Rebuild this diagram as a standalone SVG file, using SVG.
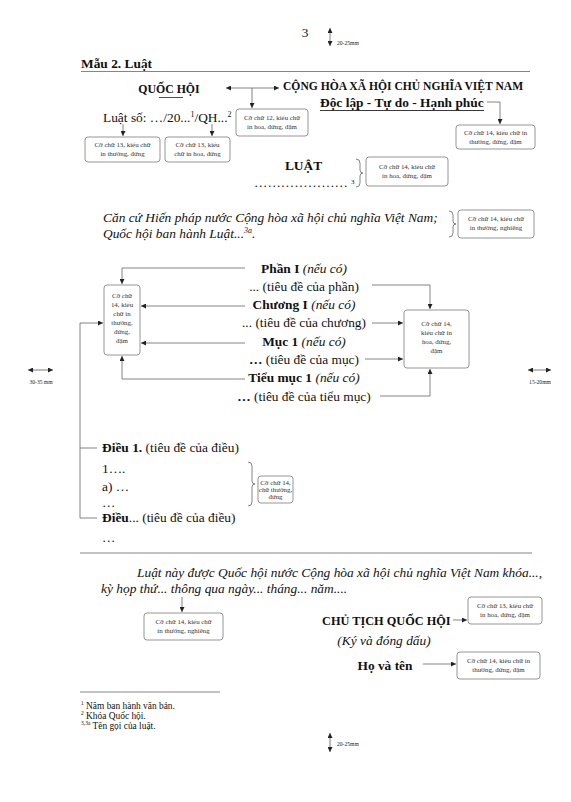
<svg xmlns="http://www.w3.org/2000/svg" width="571" height="802" viewBox="0 0 571 802">
<style>
text{font-family:"Liberation Serif","Times New Roman",serif;fill:#111}
.t{font-size:13.4px}
.b{font-weight:bold}
.i{font-style:italic}
.bx{fill:#fff;stroke:#8a8a8a;stroke-width:0.9}
.bt{font-size:6.9px;fill:#333;text-anchor:middle}
.c{fill:none;stroke:#666;stroke-width:0.8}
.rule{stroke:#777;stroke-width:0.9}
.m{font-size:5.6px;fill:#222}
.fn{font-size:9.4px}
</style>
<defs>
<marker id="ah" viewBox="0 0 10 10" refX="10" refY="5" markerWidth="5" markerHeight="5" markerUnits="userSpaceOnUse" orient="auto-start-reverse">
<path d="M0,0 L10,5 L0,10 Z" fill="#222"/>
</marker>
</defs>
<rect width="571" height="802" fill="#fff"/>

<g id="page-number"><text class="t" x="305" y="37" text-anchor="middle" font-size="12">3</text></g>
<g id="top-margin">
<line x1="330" y1="28" x2="330" y2="46" class="c" stroke="#222" marker-start="url(#ah)" marker-end="url(#ah)"/>
<text class="m" x="337" y="45">20-25mm</text>
</g>

<g id="title">
<text class="t b" x="81" y="68">Mẫu 2. Luật</text>
<line x1="81" y1="71.5" x2="530" y2="71.5" class="rule"/>
</g>

<g id="quoc-hoi">
<text class="b" x="169" y="93" text-anchor="middle" font-size="11.8px">QUỐC HỘI</text>
<line x1="159" y1="97.5" x2="183" y2="97.5" stroke="#222" stroke-width="0.8"/>
</g>

<g id="quoc-hieu">
<text class="b" x="283" y="90" font-size="11.6px">CỘNG HÒA XÃ HỘI CHỦ NGHĨA VIỆT NAM</text>
<text class="t b" x="320" y="107">Độc lập - Tự do - Hạnh phúc</text>
<line x1="320" y1="110.5" x2="484" y2="110.5" stroke="#222" stroke-width="0.9"/>
</g>

<g id="box-12">
<rect class="bx" x="236" y="109" width="72" height="27" rx="3"/>
<text class="bt" x="272" y="120">Cỡ chữ 12, kiểu chữ</text>
<text class="bt" x="272" y="129">in hoa, đứng, đậm</text>
</g>

<g id="box-tieu-ngu">
<rect class="bx" x="456" y="125" width="79" height="24" rx="3"/>
<text class="bt" x="495.5" y="135">Cỡ chữ 14, kiểu chữ in</text>
<text class="bt" x="495.5" y="144">thường, đứng, đậm</text>
</g>

<g id="so-luat">
<text class="t" x="103" y="122">Luật số: …/20...<tspan font-size="8px" dy="-5">1</tspan><tspan dy="5">/QH...</tspan><tspan font-size="8px" dy="-5">2</tspan></text>
</g>

<g id="box-13a">
<rect class="bx" x="85" y="137" width="75" height="25" rx="3"/>
<text class="bt" x="122.5" y="147">Cỡ chữ 13, kiểu chữ</text>
<text class="bt" x="122.5" y="156">in thường, đứng</text>
</g>
<g id="box-13b">
<rect class="bx" x="165" y="137" width="65" height="25" rx="3"/>
<text class="bt" x="197.5" y="147">Cỡ chữ 13, kiểu</text>
<text class="bt" x="197.5" y="156">chữ in hoa, đứng</text>
</g>

<g id="luat">
<text class="t b" x="303.5" y="170" text-anchor="middle">LUẬT</text>
<text class="t" x="254" y="187" textLength="94" lengthAdjust="spacing">…………………</text>
<text x="351" y="184" font-size="7px">3</text>
</g>

<g id="box-luat">
<rect class="bx" x="366" y="157" width="82" height="29" rx="3"/>
<text class="bt" x="407" y="169">Cỡ chữ 14, kiểu chữ</text>
<text class="bt" x="407" y="178">in hoa, đứng, đậm</text>
</g>

<g id="can-cu">
<text class="t i" x="103" y="222">Căn cứ Hiến pháp nước Cộng hòa xã hội chủ nghĩa Việt Nam;</text>
<text class="t i" x="103" y="238">Quốc hội ban hành Luật...<tspan font-size="8px" dy="-5">3a</tspan><tspan dy="5">.</tspan></text>
</g>

<g id="box-can-cu">
<rect class="bx" x="458" y="210" width="76" height="28" rx="3"/>
<text class="bt" x="496" y="221">Cỡ chữ 14, kiểu chữ</text>
<text class="bt" x="496" y="230">in thường, nghiêng</text>
</g>

<g id="structure">
<text class="t" x="304" y="272.5" text-anchor="middle"><tspan class="b">Phần I</tspan> <tspan class="i">(nếu có)</tspan></text>
<text class="t" x="304" y="290.8" text-anchor="middle">... (tiêu đề của phần)</text>
<text class="t" x="304" y="309" text-anchor="middle"><tspan class="b">Chương I</tspan> <tspan class="i">(nếu có)</tspan></text>
<text class="t" x="304" y="327.4" text-anchor="middle">... (tiêu đề của chương)</text>
<text class="t" x="304" y="345.7" text-anchor="middle"><tspan class="b">Mục 1</tspan> <tspan class="i">(nếu có)</tspan></text>
<text class="t" x="304" y="364" text-anchor="middle"><tspan class="b">…</tspan> (tiêu đề của mục)</text>
<text class="t" x="304" y="382.3" text-anchor="middle"><tspan class="b">Tiểu mục 1</tspan> <tspan class="i">(nếu có)</tspan></text>
<text class="t" x="304" y="400.6" text-anchor="middle"><tspan class="b">…</tspan> (tiêu đề của tiểu mục)</text>
</g>

<g id="box-left">
<rect class="bx" x="104" y="285" width="36" height="70" rx="3"/>
<text class="bt" x="122" y="298">Cỡ chữ</text>
<text class="bt" x="122" y="307">14, kiểu</text>
<text class="bt" x="122" y="316">chữ in</text>
<text class="bt" x="122" y="325">thường,</text>
<text class="bt" x="122" y="334">đứng,</text>
<text class="bt" x="122" y="343">đậm</text>
</g>

<g id="box-right">
<rect class="bx" x="404" y="310" width="65" height="58" rx="3"/>
<text class="bt" x="436.5" y="326">Cỡ chữ 14,</text>
<text class="bt" x="436.5" y="335">kiểu chữ in</text>
<text class="bt" x="436.5" y="344">hoa, đứng,</text>
<text class="bt" x="436.5" y="353">đậm</text>
</g>

<g id="margins">
<line x1="28" y1="370" x2="53" y2="370" stroke="#222" stroke-width="0.6" marker-start="url(#ah)" marker-end="url(#ah)"/>
<text class="m" x="41" y="384" text-anchor="middle">30-35 mm</text>
<line x1="528" y1="370" x2="551" y2="370" stroke="#222" stroke-width="0.6" marker-start="url(#ah)" marker-end="url(#ah)"/>
<text class="m" x="540" y="384" text-anchor="middle">15-20mm</text>
</g>

<g id="dieu">
<text class="t" x="102" y="452"><tspan class="b">Điều 1.</tspan> (tiêu đề của điều)</text>
<text class="t" x="102" y="473">1….</text>
<text class="t" x="102" y="491">a) …</text>
<text class="t" x="102" y="507">…</text>
<text class="t" x="102" y="522"><tspan class="b">Điều</tspan>... (tiêu đề của điều)</text>
<text class="t" x="102" y="542">…</text>
</g>

<g id="box-dieu">
<rect class="bx" x="258" y="476" width="35" height="27" rx="3"/>
<text class="bt" x="275.5" y="485" font-size="6.2px">Cỡ chữ 14,</text>
<text class="bt" x="275.5" y="492" font-size="6.2px">chữ thường,</text>
<text class="bt" x="275.5" y="499" font-size="6.2px">đứng</text>
</g>

<g id="ending">
<line x1="80" y1="553" x2="532" y2="553" class="rule"/>
<text class="t i" x="137" y="577">Luật này được Quốc hội nước Cộng hòa xã hội chủ nghĩa Việt Nam khóa...,</text>
<text class="t i" x="101" y="593">kỳ họp thứ... thông qua ngày... tháng... năm....</text>
</g>

<g id="box-ending">
<rect class="bx" x="144" y="613" width="79" height="27" rx="3"/>
<text class="bt" x="183.5" y="624">Cỡ chữ 14, kiểu chữ</text>
<text class="bt" x="183.5" y="633">in thường, nghiêng</text>
</g>

<g id="chu-tich">
<text class="b" x="322" y="624.5" font-size="12.3px">CHỦ TỊCH QUỐC HỘI</text>
<text class="t i" x="384" y="645" text-anchor="middle">(Ký và đóng dấu)</text>
<text class="t b" x="385" y="670" text-anchor="middle">Họ và tên</text>
</g>

<g id="box-chu-tich">
<rect class="bx" x="468" y="597" width="74" height="27" rx="3"/>
<text class="bt" x="505" y="608">Cỡ chữ 13, kiểu chữ</text>
<text class="bt" x="505" y="617">in hoa, đứng, đậm</text>
</g>

<g id="box-ho-ten">
<rect class="bx" x="457" y="652" width="83" height="27" rx="3"/>
<text class="bt" x="498.5" y="663">Cỡ chữ 14, kiểu chữ  in</text>
<text class="bt" x="498.5" y="672">thường, đứng, đậm</text>
</g>

<g id="footnotes">
<line x1="80" y1="692" x2="220" y2="692" class="rule"/>
<text class="fn" x="81" y="709"><tspan font-size="5.5px" dy="-4">1</tspan><tspan dy="4"> Năm ban hành văn bản.</tspan></text>
<text class="fn" x="81" y="719"><tspan font-size="5.5px" dy="-4">2</tspan><tspan dy="4"> Khóa Quốc hội.</tspan></text>
<text class="fn" x="81" y="729"><tspan font-size="5.5px" dy="-4">3,3a</tspan><tspan dy="4"> Tên gọi của luật.</tspan></text>
</g>

<g id="bottom-margin">
<line x1="330" y1="733" x2="330" y2="752" stroke="#222" stroke-width="0.6" marker-start="url(#ah)" marker-end="url(#ah)"/>
<text class="m" x="337" y="746">20-25mm</text>
</g>

<g id="connectors">
<line class="c" x1="226" y1="88" x2="279" y2="88" marker-start="url(#ah)" marker-end="url(#ah)"/>
<polyline class="c" points="252,88 252,108" marker-end="url(#ah)"/>
<polyline class="c" points="487,102 500,102 500,124" marker-end="url(#ah)"/>
<line class="c" x1="123" y1="124" x2="123" y2="136" marker-end="url(#ah)"/>
<line class="c" x1="212" y1="124" x2="212" y2="136" marker-end="url(#ah)"/>
<path class="c" d="M356,159 q4,0 4,4 v7 q0,3 3,3 q-3,0 -3,3 v7 q0,4 -4,4"/>
<path class="c" d="M449,211 q4,0 4,4 v6 q0,3 3,3 q-3,0 -3,3 v6 q0,4 -4,4"/>
<polyline class="c" points="245,268 122,268 122,284" marker-end="url(#ah)"/>
<line class="c" x1="245" y1="306" x2="141" y2="306" marker-end="url(#ah)"/>
<line class="c" x1="245" y1="343" x2="141" y2="343" marker-end="url(#ah)"/>
<polyline class="c" points="245,379 122,379 122,356" marker-end="url(#ah)"/>
<polyline class="c" points="80,518 80,323 103,323" marker-end="url(#ah)"/>
<line class="c" x1="80" y1="448" x2="97" y2="448"/>
<line class="c" x1="80" y1="518" x2="97" y2="518"/>
<polyline class="c" points="372,285 430,285 430,309" marker-end="url(#ah)"/>
<line class="c" x1="372" y1="323" x2="403" y2="323" marker-end="url(#ah)"/>
<line class="c" x1="365" y1="359" x2="403" y2="359" marker-end="url(#ah)"/>
<polyline class="c" points="380,396 430,396 430,369" marker-end="url(#ah)"/>
<path class="c" d="M248,462 q4,0 4,4 v15 q0,3 3,3 q-3,0 -3,3 v15 q0,4 -4,4"/>
<line class="c" x1="182" y1="597" x2="182" y2="612" marker-end="url(#ah)"/>
<line class="c" x1="453" y1="620" x2="467" y2="620" marker-end="url(#ah)"/>
<line class="c" x1="423" y1="664" x2="456" y2="664" marker-end="url(#ah)"/>
</g>
</svg>
